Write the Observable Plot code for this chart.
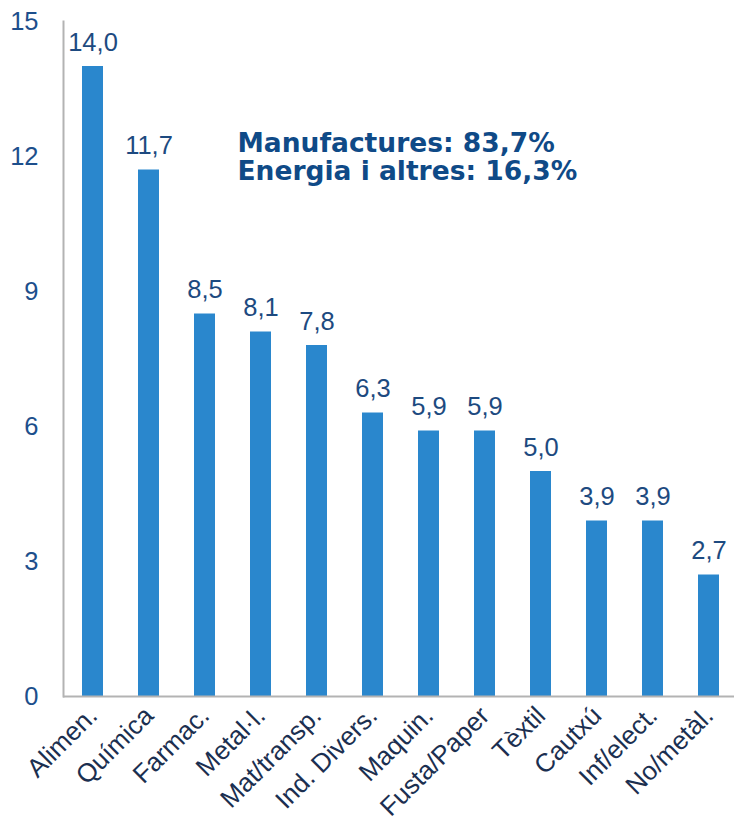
<!DOCTYPE html>
<html><head><meta charset="utf-8">
<script src="https://cdn.jsdelivr.net/npm/d3@7"></script>
<script src="https://cdn.jsdelivr.net/npm/@observablehq/plot@0.6"></script>
<style>body{margin:0;background:#fff;overflow:hidden}</style>
</head><body><div id="chart"></div>
<script>
const categories = ["Alimen.","Química","Farmac.","Metal·l.","Mat/transp.","Ind. Divers.","Maquin.","Fusta/Paper","Tèxtil","Cautxú","Inf/elect.","No/metàl."];
const values = [14.0, 11.7, 8.5, 8.1, 7.8, 6.3, 5.9, 5.9, 5.0, 3.9, 3.9, 2.7];
const yTicks = [0, 3, 6, 9, 12, 15];
const annotation = ["Manufactures: 83,7%", "Energia i altres: 16,3%"];
const data = categories.map((c, i) => ({cat: c, v: values[i]}));
const fmt = v => v.toFixed(1).replace(".", ",");

const chart = Plot.plot({
  width: 734, height: 822,
  marginLeft: 63, marginRight: 0, marginTop: 21, marginBottom: 126,
  style: {fontFamily: "'Liberation Sans', Arial, sans-serif", background: "#fff"},
  x: {domain: categories, range: [62, 740], paddingInner: 0.62, paddingOuter: 0.31, label: null},
  y: {domain: [0, 15], label: null},
  marks: [
    Plot.barY(data, {x: "cat", y: "v", fill: "#2a87cd"}),
    Plot.text(data, {x: "cat", y: "v", text: d => fmt(d.v), dy: -16, lineAnchor: "bottom", fontSize: 25.5, fill: "#1d4a80"}),
    Plot.axisY({ticks: yTicks, tickSize: 0, tickPadding: 25, fontSize: 25.5, color: "#1d4f8c", label: null}),
    Plot.axisX({tickSize: 0, tickRotate: -45, tickPadding: 15, fontSize: 26, color: "#1b2f50", label: null}),
    Plot.frame({anchor: "left", stroke: "#b3b3b3", strokeWidth: 2}),
    Plot.ruleY([0], {stroke: "#b3b3b3", strokeWidth: 2}),
    Plot.text([annotation.join("\n")], {frameAnchor: "top-left", dx: 174, dy: 110, lineAnchor: "top", textAnchor: "start", lineHeight: 1.08, fontSize: 26.5, fontWeight: "bold", fontFamily: "'DejaVu Sans', Verdana, sans-serif", fill: "#0f4a87"})
  ]
});
document.getElementById("chart").appendChild(chart);
</script></body></html>
